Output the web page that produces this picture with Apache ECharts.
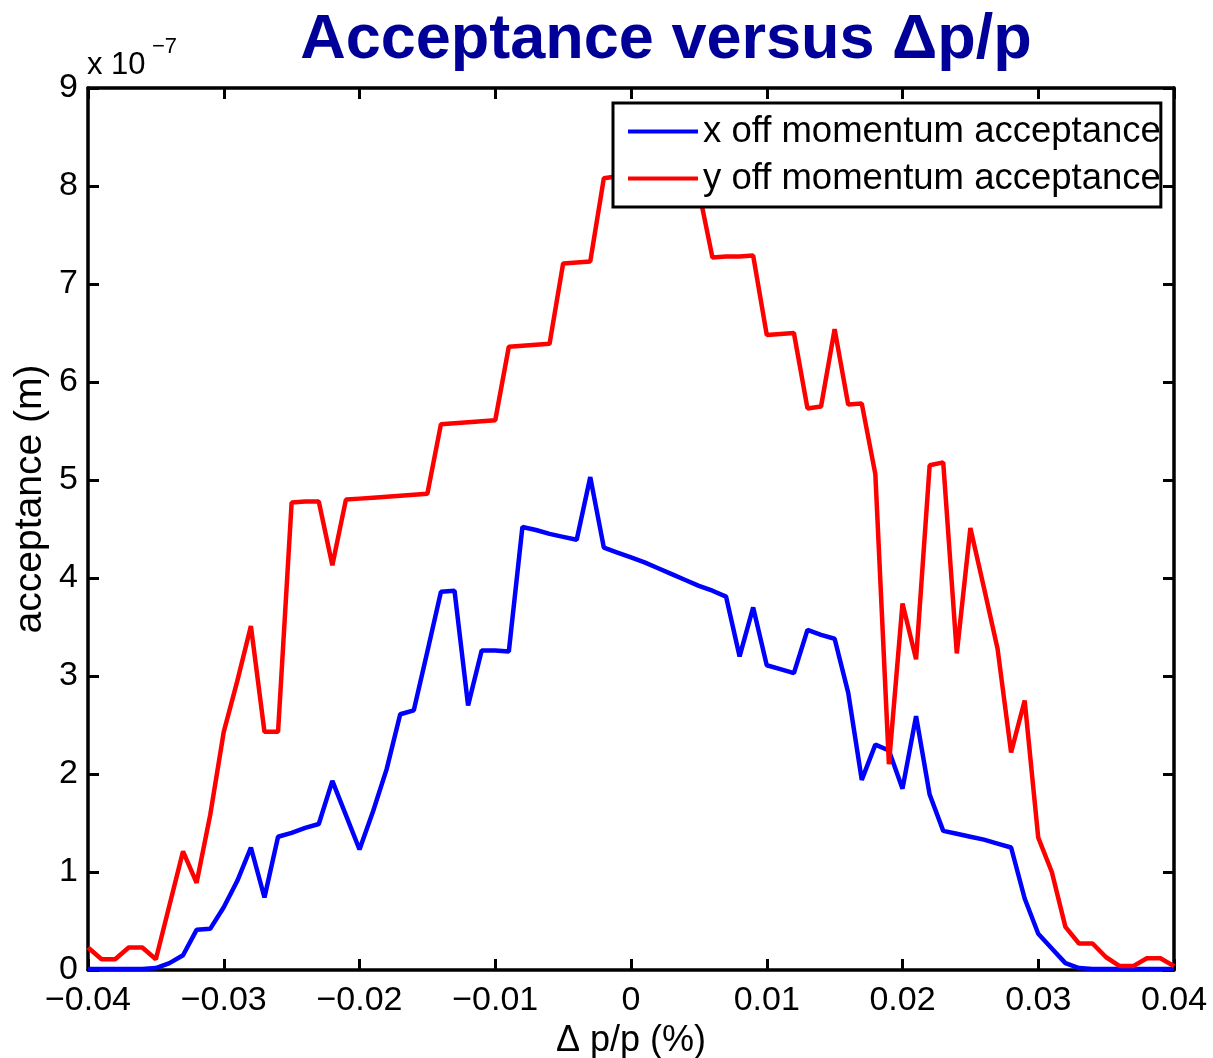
<!DOCTYPE html>
<html>
<head>
<meta charset="utf-8">
<script src="https://cdn.jsdelivr.net/npm/echarts@6/dist/echarts.min.js"></script>
<style>
html,body{margin:0;padding:0;background:#fff;}
#chart{width:1213px;height:1058px;}
</style>
</head>
<body>
<div id="chart"></div>
<script>
// Δp/p values (x positions), step 0.001 from -0.040 to 0.040
const dpp = [
 -0.040,-0.039,-0.038,-0.037,-0.036,-0.035,-0.034,-0.033,-0.032,-0.031,
 -0.030,-0.029,-0.028,-0.027,-0.026,-0.025,-0.024,-0.023,-0.022,-0.021,
 -0.020,-0.019,-0.018,-0.017,-0.016,-0.015,-0.014,-0.013,-0.012,-0.011,
 -0.010,-0.009,-0.008,-0.007,-0.006,-0.005,-0.004,-0.003,-0.002,-0.001,
  0.000, 0.001, 0.002, 0.003, 0.004, 0.005, 0.006, 0.007, 0.008, 0.009,
  0.010, 0.011, 0.012, 0.013, 0.014, 0.015, 0.016, 0.017, 0.018, 0.019,
  0.020, 0.021, 0.022, 0.023, 0.024, 0.025, 0.026, 0.027, 0.028, 0.029,
  0.030, 0.031, 0.032, 0.033, 0.034, 0.035, 0.036, 0.037, 0.038, 0.039,
  0.040
];
// x off momentum acceptance (units of 1e-7 m)
const xAcceptance = [
 0.01,0.01,0.01,0.01,0.01,0.02,0.07,0.15,0.41,0.42,
 0.64,0.91,1.25,0.74,1.36,1.40,1.45,1.49,1.93,1.58,
 1.23,1.62,2.05,2.61,2.65,3.25,3.86,3.87,2.70,3.26,
 3.26,3.25,4.52,4.49,4.45,4.42,4.39,5.03,4.31,4.26,
 4.21,4.16,4.10,4.04,3.98,3.92,3.87,3.81,3.20,3.70,
 3.11,3.07,3.03,3.47,3.42,3.38,2.83,1.94,2.30,2.24,
 1.85,2.59,1.79,1.42,1.39,1.36,1.33,1.29,1.25,0.73,
 0.37,0.22,0.07,0.02,0.01,0.01,0.01,0.01,0.01,0.01,
 0.01
];
// y off momentum acceptance (units of 1e-7 m)
const yAcceptance = [
 0.23,0.11,0.11,0.23,0.23,0.11,0.66,1.21,0.89,1.58,
 2.43,2.95,3.51,2.43,2.43,4.77,4.78,4.78,4.13,4.80,
 4.81,4.82,4.83,4.84,4.85,4.86,5.57,5.58,5.59,5.60,
 5.61,6.36,6.37,6.38,6.39,7.21,7.22,7.23,8.08,8.10,
 8.10,8.10,8.05,8.00,7.98,7.95,7.27,7.28,7.28,7.29,
 6.48,6.49,6.50,5.73,5.75,6.54,5.77,5.78,5.06,2.10,
 3.74,3.17,5.15,5.18,3.23,4.51,3.90,3.28,2.22,2.75,
 1.35,1.00,0.44,0.27,0.27,0.13,0.04,0.04,0.12,0.12,
 0.04
];
const seriesNames = ['x off momentum acceptance', 'y off momentum acceptance'];
const titleText = 'Acceptance versus \u0394p/p';
const xName = '\u0394 p/p (%)';
const yName = 'acceptance (m)';

const fontFam = '"Liberation Sans", Arial, sans-serif';
function fmtX(v){
  if (Math.abs(v) < 1e-9) return '0';
  const s = Math.abs(v).toFixed(2);
  return (v < 0 ? '\u2212' : '') + s;
}
const chart = echarts.init(document.getElementById('chart'), null, {renderer:'canvas'});
const axisLine = {show:true, onZero:false, lineStyle:{color:'#000', width:3.5}};
const tick = {show:true, inside:true, length:11, lineStyle:{color:'#000', width:3}};
const option = {
  backgroundColor:'#fff',
  animation:false,
  title:{
    text:titleText, left:661, top:4, textAlign:'center',
    textStyle:{fontFamily:fontFam, fontWeight:'bold', fontSize:63, color:'#000099'}
  },
  legend:{
    orient:'vertical', left:613, top:103,
    padding:[10,0,10,15], itemGap:10,
    itemWidth:70, itemHeight:4, icon:'rect',
    backgroundColor:'#fff', borderColor:'#000', borderWidth:3,
    textStyle:{fontFamily:fontFam, fontSize:36.5, color:'#000'},
    data:seriesNames
  },
  grid:{left:88, right:39, top:88, bottom:88, show:false, containLabel:false, outerBoundsMode:'none'},
  graphic:[
    {type:'text', left:87, top:50, style:{text:'x 10', font:'31px "Liberation Sans", Arial, sans-serif', fill:'#000'}},
    {type:'text', left:152, top:36, style:{text:'\u22127', font:'22px "Liberation Sans", Arial, sans-serif', fill:'#000'}},
    {type:'text', x:30, y:499, rotation:Math.PI/2,
     style:{text:yName, font:'39px "Liberation Sans", Arial, sans-serif', fill:'#000', align:'center', verticalAlign:'middle'}}
  ],
  xAxis:[{
    type:'value', min:-0.04, max:0.04, interval:0.01,
    axisLine:axisLine, axisTick:tick, splitLine:{show:false},
    axisLabel:{formatter:fmtX, fontFamily:fontFam, fontSize:34, color:'#000', margin:14},
    name:xName, nameLocation:'middle', nameGap:50,
    nameTextStyle:{fontFamily:fontFam, fontSize:36, color:'#000'}
  },{
    type:'value', position:'top', min:-0.04, max:0.04, interval:0.01,
    axisLine:axisLine, axisTick:tick, splitLine:{show:false}, axisLabel:{show:false}
  }],
  yAxis:[{
    type:'value', min:0, max:9, interval:1,
    axisLine:axisLine, axisTick:tick, splitLine:{show:false},
    axisLabel:{fontFamily:fontFam, fontSize:34, color:'#000', margin:10}
  },{
    type:'value', position:'right', min:0, max:9, interval:1,
    axisLine:axisLine, axisTick:tick, splitLine:{show:false}, axisLabel:{show:false}
  }],
  series:[
    {name:seriesNames[0], type:'line', symbol:'none', showSymbol:false,
     lineStyle:{color:'#0000ff', width:4.5}, itemStyle:{color:'#0000ff'},
     data:dpp.map((x,i)=>[x, xAcceptance[i]]), z:2},
    {name:seriesNames[1], type:'line', symbol:'none', showSymbol:false,
     lineStyle:{color:'#ff0000', width:4.5}, itemStyle:{color:'#ff0000'},
     data:dpp.map((x,i)=>[x, yAcceptance[i]]), z:2}
  ]
};
chart.setOption(option);
</script>
</body>
</html>
